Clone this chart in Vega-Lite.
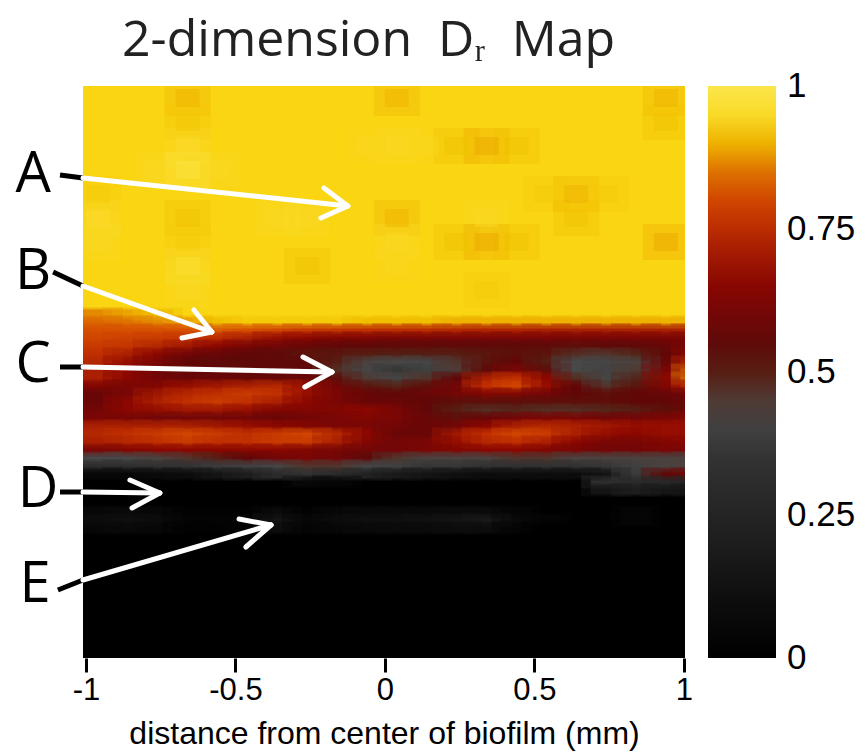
{"$schema":"https://vega.github.io/schema/vega-lite/v6.json","width":602,"height":572,"autosize":"none","padding":{"left":83,"top":86,"right":180,"bottom":97},"background":"white",
"title":{"text":"2-dimension\u00a0\u00a0Dᵣ\u00a0\u00a0Map","font":"Open Sans","fontSize":50,"fontWeight":"normal","color":"#222222","anchor":"start","frame":"group","dx":39,"offset":20},
"view":{"stroke":null},
"datasets":{
"base":[{"x":-1.01,"x2":1.004,"d":0,"d2":572,"v":0},{"x":-1.01,"x2":1.004,"d":0,"d2":240,"v":0.93}],
"blobs":[{"x":-0.66,"d":12,"v":0.9},{"x":0.04,"d":12,"v":0.9},{"x":0.94,"d":12,"v":0.9},{"x":-0.66,"d":36,"v":0.915},{"x":0.94,"d":36,"v":0.91},{"x":-0.66,"d":60,"v":0.96},{"x":-0.06,"d":60,"v":0.94},{"x":0.04,"d":60,"v":0.95},{"x":0.14,"d":60,"v":0.94},{"x":0.24,"d":60,"v":0.91},{"x":0.34,"d":60,"v":0.89},{"x":0.44,"d":60,"v":0.91},{"x":-0.76,"d":84,"v":0.95},{"x":-0.66,"d":84,"v":0.99},{"x":-0.56,"d":84,"v":0.95},{"x":-0.96,"d":108,"v":0.92},{"x":0.54,"d":108,"v":0.92},{"x":0.64,"d":108,"v":0.9},{"x":0.74,"d":108,"v":0.92},{"x":-0.96,"d":132,"v":0.96},{"x":-0.66,"d":132,"v":0.91},{"x":-0.36,"d":132,"v":0.95},{"x":-0.26,"d":132,"v":0.95},{"x":0.04,"d":132,"v":0.9},{"x":0.34,"d":132,"v":0.95},{"x":0.64,"d":132,"v":0.91},{"x":-0.96,"d":156,"v":0.95},{"x":-0.66,"d":156,"v":0.92},{"x":0.04,"d":156,"v":0.95},{"x":0.24,"d":156,"v":0.91},{"x":0.34,"d":156,"v":0.89},{"x":0.44,"d":156,"v":0.91},{"x":0.94,"d":156,"v":0.89},{"x":-0.66,"d":180,"v":0.97},{"x":-0.26,"d":180,"v":0.91},{"x":0.04,"d":180,"v":0.94},{"x":-0.66,"d":204,"v":0.95},{"x":0.34,"d":204,"v":0.92}],
"mid":[
{"x":-0.96,"d":228,"v":0.87},{"x":-0.86,"d":228,"v":0.89},{"x":-0.76,"d":228,"v":0.91},
{"x":-0.96,"d":236,"v":0.84},{"x":-0.86,"d":236,"v":0.85},{"x":-0.76,"d":236,"v":0.87},{"x":-0.66,"d":236,"v":0.89},{"x":-0.56,"d":236,"v":0.91},{"x":-0.46,"d":236,"v":0.92},{"x":-0.36,"d":236,"v":0.92},{"x":-0.26,"d":236,"v":0.92},{"x":-0.16,"d":236,"v":0.92},{"x":-0.06,"d":236,"v":0.91},{"x":0.04,"d":236,"v":0.91},{"x":0.14,"d":236,"v":0.91},{"x":0.24,"d":236,"v":0.9},{"x":0.34,"d":236,"v":0.9},{"x":0.44,"d":236,"v":0.9},{"x":0.54,"d":236,"v":0.9},{"x":0.64,"d":236,"v":0.9},{"x":0.74,"d":236,"v":0.9},{"x":0.84,"d":236,"v":0.9},{"x":0.94,"d":236,"v":0.9},{"x":1.04,"d":236,"v":0.9},
{"x":-0.96,"d":244,"v":0.82},{"x":-0.86,"d":244,"v":0.82},{"x":-0.76,"d":244,"v":0.82},{"x":-0.66,"d":244,"v":0.82},{"x":-0.56,"d":244,"v":0.83},{"x":-0.46,"d":244,"v":0.82},{"x":-0.36,"d":244,"v":0.8},{"x":-0.26,"d":244,"v":0.78},{"x":-0.16,"d":244,"v":0.77},{"x":-0.06,"d":244,"v":0.76},{"x":0.04,"d":244,"v":0.75},{"x":0.14,"d":244,"v":0.75},{"x":0.24,"d":244,"v":0.74},{"x":0.34,"d":244,"v":0.73},{"x":0.44,"d":244,"v":0.73},{"x":0.54,"d":244,"v":0.72},{"x":0.64,"d":244,"v":0.72},{"x":0.74,"d":244,"v":0.72},{"x":0.84,"d":244,"v":0.72},{"x":0.94,"d":244,"v":0.72},{"x":1.04,"d":244,"v":0.72},
{"x":-0.96,"d":252,"v":0.8},{"x":-0.86,"d":252,"v":0.79},{"x":-0.76,"d":252,"v":0.78},{"x":-0.66,"d":252,"v":0.77},{"x":-0.56,"d":252,"v":0.75},{"x":-0.46,"d":252,"v":0.72},{"x":-0.36,"d":252,"v":0.68},{"x":-0.26,"d":252,"v":0.66},{"x":-0.16,"d":252,"v":0.64},{"x":-0.06,"d":252,"v":0.63},{"x":0.04,"d":252,"v":0.62},{"x":0.14,"d":252,"v":0.62},{"x":0.24,"d":252,"v":0.62},{"x":0.34,"d":252,"v":0.62},{"x":0.44,"d":252,"v":0.62},{"x":0.54,"d":252,"v":0.62},{"x":0.64,"d":252,"v":0.62},{"x":0.74,"d":252,"v":0.62},{"x":0.84,"d":252,"v":0.62},{"x":0.94,"d":252,"v":0.62},{"x":1.04,"d":252,"v":0.62},
{"x":-0.96,"d":260,"v":0.78},{"x":-0.86,"d":260,"v":0.77},{"x":-0.76,"d":260,"v":0.74},{"x":-0.66,"d":260,"v":0.7},{"x":-0.56,"d":260,"v":0.66},{"x":-0.46,"d":260,"v":0.62},{"x":-0.36,"d":260,"v":0.6},{"x":-0.26,"d":260,"v":0.58},{"x":-0.16,"d":260,"v":0.56},{"x":-0.06,"d":260,"v":0.56},{"x":0.04,"d":260,"v":0.55},{"x":0.14,"d":260,"v":0.55},{"x":0.24,"d":260,"v":0.55},{"x":0.34,"d":260,"v":0.55},{"x":0.44,"d":260,"v":0.55},{"x":0.54,"d":260,"v":0.55},{"x":0.64,"d":260,"v":0.54},{"x":0.74,"d":260,"v":0.55},{"x":0.84,"d":260,"v":0.55},{"x":0.94,"d":260,"v":0.58},{"x":1.04,"d":260,"v":0.62},
{"x":-0.96,"d":268,"v":0.76},{"x":-0.86,"d":268,"v":0.72},{"x":-0.76,"d":268,"v":0.66},{"x":-0.66,"d":268,"v":0.6},{"x":-0.56,"d":268,"v":0.58},{"x":-0.46,"d":268,"v":0.56},{"x":-0.36,"d":268,"v":0.55},{"x":-0.26,"d":268,"v":0.53},{"x":-0.16,"d":268,"v":0.52},{"x":-0.06,"d":268,"v":0.5},{"x":0.04,"d":268,"v":0.49},{"x":0.14,"d":268,"v":0.49},{"x":0.24,"d":268,"v":0.5},{"x":0.34,"d":268,"v":0.52},{"x":0.44,"d":268,"v":0.54},{"x":0.54,"d":268,"v":0.53},{"x":0.64,"d":268,"v":0.47},{"x":0.74,"d":268,"v":0.46},{"x":0.84,"d":268,"v":0.48},{"x":0.94,"d":268,"v":0.56},{"x":1.04,"d":268,"v":0.66},
{"x":-0.96,"d":276,"v":0.74},{"x":-0.86,"d":276,"v":0.68},{"x":-0.76,"d":276,"v":0.62},{"x":-0.66,"d":276,"v":0.56},{"x":-0.56,"d":276,"v":0.55},{"x":-0.46,"d":276,"v":0.55},{"x":-0.36,"d":276,"v":0.55},{"x":-0.26,"d":276,"v":0.55},{"x":-0.16,"d":276,"v":0.5},{"x":-0.06,"d":276,"v":0.44},{"x":0.04,"d":276,"v":0.43},{"x":0.14,"d":276,"v":0.42},{"x":0.24,"d":276,"v":0.46},{"x":0.34,"d":276,"v":0.53},{"x":0.44,"d":276,"v":0.56},{"x":0.54,"d":276,"v":0.5},{"x":0.64,"d":276,"v":0.43},{"x":0.74,"d":276,"v":0.42},{"x":0.84,"d":276,"v":0.44},{"x":0.94,"d":276,"v":0.58},{"x":1.04,"d":276,"v":0.74},
{"x":-0.96,"d":284,"v":0.72},{"x":-0.86,"d":284,"v":0.66},{"x":-0.76,"d":284,"v":0.6},{"x":-0.66,"d":284,"v":0.57},{"x":-0.56,"d":284,"v":0.56},{"x":-0.46,"d":284,"v":0.55},{"x":-0.36,"d":284,"v":0.55},{"x":-0.26,"d":284,"v":0.55},{"x":-0.16,"d":284,"v":0.47},{"x":-0.06,"d":284,"v":0.42},{"x":0.04,"d":284,"v":0.36},{"x":0.14,"d":284,"v":0.4},{"x":0.24,"d":284,"v":0.45},{"x":0.34,"d":284,"v":0.55},{"x":0.44,"d":284,"v":0.62},{"x":0.54,"d":284,"v":0.54},{"x":0.64,"d":284,"v":0.43},{"x":0.74,"d":284,"v":0.41},{"x":0.84,"d":284,"v":0.45},{"x":0.94,"d":284,"v":0.62},{"x":1.04,"d":284,"v":0.84},
{"x":-0.96,"d":292,"v":0.72},{"x":-0.86,"d":292,"v":0.66},{"x":-0.76,"d":292,"v":0.6},{"x":-0.66,"d":292,"v":0.58},{"x":-0.56,"d":292,"v":0.58},{"x":-0.46,"d":292,"v":0.57},{"x":-0.36,"d":292,"v":0.57},{"x":-0.26,"d":292,"v":0.58},{"x":-0.16,"d":292,"v":0.54},{"x":-0.06,"d":292,"v":0.45},{"x":0.04,"d":292,"v":0.42},{"x":0.14,"d":292,"v":0.46},{"x":0.24,"d":292,"v":0.56},{"x":0.34,"d":292,"v":0.72},{"x":0.44,"d":292,"v":0.76},{"x":0.54,"d":292,"v":0.66},{"x":0.64,"d":292,"v":0.47},{"x":0.74,"d":292,"v":0.42},{"x":0.84,"d":292,"v":0.48},{"x":0.94,"d":292,"v":0.66},{"x":1.04,"d":292,"v":0.86},
{"x":-0.96,"d":300,"v":0.64},{"x":-0.86,"d":300,"v":0.62},{"x":-0.76,"d":300,"v":0.64},{"x":-0.66,"d":300,"v":0.68},{"x":-0.56,"d":300,"v":0.7},{"x":-0.46,"d":300,"v":0.72},{"x":-0.36,"d":300,"v":0.74},{"x":-0.26,"d":300,"v":0.68},{"x":-0.16,"d":300,"v":0.6},{"x":-0.06,"d":300,"v":0.52},{"x":0.04,"d":300,"v":0.48},{"x":0.14,"d":300,"v":0.54},{"x":0.24,"d":300,"v":0.6},{"x":0.34,"d":300,"v":0.76},{"x":0.44,"d":300,"v":0.8},{"x":0.54,"d":300,"v":0.68},{"x":0.64,"d":300,"v":0.56},{"x":0.74,"d":300,"v":0.46},{"x":0.84,"d":300,"v":0.52},{"x":0.94,"d":300,"v":0.64},{"x":1.04,"d":300,"v":0.76},
{"x":-0.96,"d":308,"v":0.58},{"x":-0.86,"d":308,"v":0.62},{"x":-0.76,"d":308,"v":0.7},{"x":-0.66,"d":308,"v":0.74},{"x":-0.56,"d":308,"v":0.76},{"x":-0.46,"d":308,"v":0.78},{"x":-0.36,"d":308,"v":0.76},{"x":-0.26,"d":308,"v":0.68},{"x":-0.16,"d":308,"v":0.62},{"x":-0.06,"d":308,"v":0.58},{"x":0.04,"d":308,"v":0.56},{"x":0.14,"d":308,"v":0.58},{"x":0.24,"d":308,"v":0.6},{"x":0.34,"d":308,"v":0.64},{"x":0.44,"d":308,"v":0.64},{"x":0.54,"d":308,"v":0.6},{"x":0.64,"d":308,"v":0.56},{"x":0.74,"d":308,"v":0.54},{"x":0.84,"d":308,"v":0.56},{"x":0.94,"d":308,"v":0.58},{"x":1.04,"d":308,"v":0.6},
{"x":-0.96,"d":316,"v":0.58},{"x":-0.86,"d":316,"v":0.66},{"x":-0.76,"d":316,"v":0.72},{"x":-0.66,"d":316,"v":0.76},{"x":-0.56,"d":316,"v":0.78},{"x":-0.46,"d":316,"v":0.76},{"x":-0.36,"d":316,"v":0.72},{"x":-0.26,"d":316,"v":0.66},{"x":-0.16,"d":316,"v":0.62},{"x":-0.06,"d":316,"v":0.58},{"x":0.04,"d":316,"v":0.58},{"x":0.14,"d":316,"v":0.56},{"x":0.24,"d":316,"v":0.54},{"x":0.34,"d":316,"v":0.54},{"x":0.44,"d":316,"v":0.54},{"x":0.54,"d":316,"v":0.54},{"x":0.64,"d":316,"v":0.54},{"x":0.74,"d":316,"v":0.54},{"x":0.84,"d":316,"v":0.56},{"x":0.94,"d":316,"v":0.56},{"x":1.04,"d":316,"v":0.58},
{"x":-0.96,"d":324,"v":0.6},{"x":-0.86,"d":324,"v":0.66},{"x":-0.76,"d":324,"v":0.68},{"x":-0.66,"d":324,"v":0.7},{"x":-0.56,"d":324,"v":0.7},{"x":-0.46,"d":324,"v":0.68},{"x":-0.36,"d":324,"v":0.64},{"x":-0.26,"d":324,"v":0.64},{"x":-0.16,"d":324,"v":0.64},{"x":-0.06,"d":324,"v":0.66},{"x":0.04,"d":324,"v":0.62},{"x":0.14,"d":324,"v":0.56},{"x":0.24,"d":324,"v":0.5},{"x":0.34,"d":324,"v":0.47},{"x":0.44,"d":324,"v":0.48},{"x":0.54,"d":324,"v":0.47},{"x":0.64,"d":324,"v":0.47},{"x":0.74,"d":324,"v":0.48},{"x":0.84,"d":324,"v":0.5},{"x":0.94,"d":324,"v":0.54},{"x":1.04,"d":324,"v":0.58},
{"x":-0.96,"d":332,"v":0.62},{"x":-0.86,"d":332,"v":0.62},{"x":-0.76,"d":332,"v":0.6},{"x":-0.66,"d":332,"v":0.6},{"x":-0.56,"d":332,"v":0.6},{"x":-0.46,"d":332,"v":0.6},{"x":-0.36,"d":332,"v":0.58},{"x":-0.26,"d":332,"v":0.6},{"x":-0.16,"d":332,"v":0.62},{"x":-0.06,"d":332,"v":0.64},{"x":0.04,"d":332,"v":0.62},{"x":0.14,"d":332,"v":0.58},{"x":0.24,"d":332,"v":0.54},{"x":0.34,"d":332,"v":0.58},{"x":0.44,"d":332,"v":0.6},{"x":0.54,"d":332,"v":0.62},{"x":0.64,"d":332,"v":0.62},{"x":0.74,"d":332,"v":0.6},{"x":0.84,"d":332,"v":0.6},{"x":0.94,"d":332,"v":0.62},{"x":1.04,"d":332,"v":0.64},
{"x":-0.96,"d":340,"v":0.72},{"x":-0.86,"d":340,"v":0.72},{"x":-0.76,"d":340,"v":0.72},{"x":-0.66,"d":340,"v":0.72},{"x":-0.56,"d":340,"v":0.7},{"x":-0.46,"d":340,"v":0.68},{"x":-0.36,"d":340,"v":0.66},{"x":-0.26,"d":340,"v":0.64},{"x":-0.16,"d":340,"v":0.62},{"x":-0.06,"d":340,"v":0.62},{"x":0.04,"d":340,"v":0.6},{"x":0.14,"d":340,"v":0.58},{"x":0.24,"d":340,"v":0.6},{"x":0.34,"d":340,"v":0.66},{"x":0.44,"d":340,"v":0.72},{"x":0.54,"d":340,"v":0.74},{"x":0.64,"d":340,"v":0.72},{"x":0.74,"d":340,"v":0.7},{"x":0.84,"d":340,"v":0.68},{"x":0.94,"d":340,"v":0.68},{"x":1.04,"d":340,"v":0.68},
{"x":-0.96,"d":348,"v":0.74},{"x":-0.86,"d":348,"v":0.76},{"x":-0.76,"d":348,"v":0.78},{"x":-0.66,"d":348,"v":0.8},{"x":-0.56,"d":348,"v":0.78},{"x":-0.46,"d":348,"v":0.76},{"x":-0.36,"d":348,"v":0.78},{"x":-0.26,"d":348,"v":0.8},{"x":-0.16,"d":348,"v":0.74},{"x":-0.06,"d":348,"v":0.66},{"x":0.04,"d":348,"v":0.58},{"x":0.14,"d":348,"v":0.58},{"x":0.24,"d":348,"v":0.7},{"x":0.34,"d":348,"v":0.76},{"x":0.44,"d":348,"v":0.8},{"x":0.54,"d":348,"v":0.78},{"x":0.64,"d":348,"v":0.72},{"x":0.74,"d":348,"v":0.68},{"x":0.84,"d":348,"v":0.66},{"x":0.94,"d":348,"v":0.68},{"x":1.04,"d":348,"v":0.68},
{"x":-0.96,"d":356,"v":0.72},{"x":-0.86,"d":356,"v":0.74},{"x":-0.76,"d":356,"v":0.76},{"x":-0.66,"d":356,"v":0.78},{"x":-0.56,"d":356,"v":0.76},{"x":-0.46,"d":356,"v":0.76},{"x":-0.36,"d":356,"v":0.78},{"x":-0.26,"d":356,"v":0.78},{"x":-0.16,"d":356,"v":0.72},{"x":-0.06,"d":356,"v":0.64},{"x":0.04,"d":356,"v":0.6},{"x":0.14,"d":356,"v":0.62},{"x":0.24,"d":356,"v":0.68},{"x":0.34,"d":356,"v":0.74},{"x":0.44,"d":356,"v":0.76},{"x":0.54,"d":356,"v":0.72},{"x":0.64,"d":356,"v":0.66},{"x":0.74,"d":356,"v":0.62},{"x":0.84,"d":356,"v":0.62},{"x":0.94,"d":356,"v":0.64},{"x":1.04,"d":356,"v":0.66},
{"x":-0.96,"d":364,"v":0.62},{"x":-0.86,"d":364,"v":0.64},{"x":-0.76,"d":364,"v":0.66},{"x":-0.66,"d":364,"v":0.66},{"x":-0.56,"d":364,"v":0.66},{"x":-0.46,"d":364,"v":0.66},{"x":-0.36,"d":364,"v":0.66},{"x":-0.26,"d":364,"v":0.64},{"x":-0.16,"d":364,"v":0.62},{"x":-0.06,"d":364,"v":0.6},{"x":0.04,"d":364,"v":0.6},{"x":0.14,"d":364,"v":0.62},{"x":0.24,"d":364,"v":0.64},{"x":0.34,"d":364,"v":0.66},{"x":0.44,"d":364,"v":0.66},{"x":0.54,"d":364,"v":0.64},{"x":0.64,"d":364,"v":0.62},{"x":0.74,"d":364,"v":0.6},{"x":0.84,"d":364,"v":0.6},{"x":0.94,"d":364,"v":0.62},{"x":1.04,"d":364,"v":0.62},
{"x":-0.96,"d":372,"v":0.43},{"x":-0.86,"d":372,"v":0.43},{"x":-0.76,"d":372,"v":0.44},{"x":-0.66,"d":372,"v":0.46},{"x":-0.56,"d":372,"v":0.5},{"x":-0.46,"d":372,"v":0.56},{"x":-0.36,"d":372,"v":0.6},{"x":-0.26,"d":372,"v":0.62},{"x":-0.16,"d":372,"v":0.6},{"x":-0.06,"d":372,"v":0.55},{"x":0.04,"d":372,"v":0.46},{"x":0.14,"d":372,"v":0.44},{"x":0.24,"d":372,"v":0.44},{"x":0.34,"d":372,"v":0.44},{"x":0.44,"d":372,"v":0.46},{"x":0.54,"d":372,"v":0.46},{"x":0.64,"d":372,"v":0.44},{"x":0.74,"d":372,"v":0.44},{"x":0.84,"d":372,"v":0.44},{"x":0.94,"d":372,"v":0.44},{"x":1.04,"d":372,"v":0.44},
{"x":-0.96,"d":380,"v":0.32},{"x":-0.86,"d":380,"v":0.33},{"x":-0.76,"d":380,"v":0.34},{"x":-0.66,"d":380,"v":0.35},{"x":-0.56,"d":380,"v":0.38},{"x":-0.46,"d":380,"v":0.4},{"x":-0.36,"d":380,"v":0.42},{"x":-0.26,"d":380,"v":0.46},{"x":-0.16,"d":380,"v":0.46},{"x":-0.06,"d":380,"v":0.42},{"x":0.04,"d":380,"v":0.4},{"x":0.14,"d":380,"v":0.36},{"x":0.24,"d":380,"v":0.36},{"x":0.34,"d":380,"v":0.34},{"x":0.44,"d":380,"v":0.34},{"x":0.54,"d":380,"v":0.34},{"x":0.64,"d":380,"v":0.34},{"x":0.74,"d":380,"v":0.36},{"x":0.84,"d":380,"v":0.4},{"x":0.94,"d":380,"v":0.44},{"x":1.04,"d":380,"v":0.44},
{"x":-0.96,"d":388,"v":0.05},{"x":-0.86,"d":388,"v":0.06},{"x":-0.76,"d":388,"v":0.08},{"x":-0.66,"d":388,"v":0.1},{"x":-0.56,"d":388,"v":0.14},{"x":-0.46,"d":388,"v":0.2},{"x":-0.36,"d":388,"v":0.3},{"x":-0.26,"d":388,"v":0.34},{"x":-0.16,"d":388,"v":0.3},{"x":-0.06,"d":388,"v":0.24},{"x":0.04,"d":388,"v":0.18},{"x":0.14,"d":388,"v":0.14},{"x":0.24,"d":388,"v":0.12},{"x":0.34,"d":388,"v":0.1},{"x":0.44,"d":388,"v":0.1},{"x":0.54,"d":388,"v":0.1},{"x":0.64,"d":388,"v":0.1},{"x":0.74,"d":388,"v":0.14},{"x":0.84,"d":388,"v":0.38},{"x":0.94,"d":388,"v":0.56},{"x":1.04,"d":388,"v":0.6},
{"x":-0.26,"d":396,"v":0.05},{"x":-0.16,"d":396,"v":0.04},{"x":0.74,"d":396,"v":0.32},{"x":0.84,"d":396,"v":0.3},{"x":0.94,"d":396,"v":0.28},{"x":1.04,"d":396,"v":0.26},
{"x":0.74,"d":404,"v":0.14},{"x":0.84,"d":404,"v":0.2},{"x":0.94,"d":404,"v":0.16},{"x":1.04,"d":404,"v":0.14},
{"x":-0.96,"d":426,"v":0.06},{"x":-0.86,"d":426,"v":0.08},{"x":-0.76,"d":426,"v":0.06},{"x":-0.66,"d":426,"v":0.02},{"x":-0.56,"d":426,"v":0.02},{"x":-0.46,"d":426,"v":0.02},{"x":-0.36,"d":426,"v":0.08},{"x":-0.26,"d":426,"v":0.02},{"x":-0.16,"d":426,"v":0.06},{"x":-0.06,"d":426,"v":0.07},{"x":0.04,"d":426,"v":0.07},{"x":0.14,"d":426,"v":0.07},{"x":0.24,"d":426,"v":0.08},{"x":0.34,"d":426,"v":0.08},{"x":0.44,"d":426,"v":0.04},{"x":0.84,"d":426,"v":0.04},
{"x":-0.96,"d":434,"v":0.1},{"x":-0.86,"d":434,"v":0.12},{"x":-0.76,"d":434,"v":0.1},{"x":-0.66,"d":434,"v":0.03},{"x":-0.56,"d":434,"v":0.03},{"x":-0.46,"d":434,"v":0.04},{"x":-0.36,"d":434,"v":0.14},{"x":-0.26,"d":434,"v":0.05},{"x":-0.16,"d":434,"v":0.1},{"x":-0.06,"d":434,"v":0.12},{"x":0.04,"d":434,"v":0.12},{"x":0.14,"d":434,"v":0.13},{"x":0.24,"d":434,"v":0.15},{"x":0.34,"d":434,"v":0.18},{"x":0.44,"d":434,"v":0.08},{"x":0.54,"d":434,"v":0.03},{"x":0.84,"d":434,"v":0.04},
{"x":-0.96,"d":442,"v":0.05},{"x":-0.86,"d":442,"v":0.07},{"x":-0.76,"d":442,"v":0.05},{"x":-0.66,"d":442,"v":0.02},{"x":-0.56,"d":442,"v":0.02},{"x":-0.46,"d":442,"v":0.03},{"x":-0.36,"d":442,"v":0.1},{"x":-0.26,"d":442,"v":0.03},{"x":-0.16,"d":442,"v":0.06},{"x":-0.06,"d":442,"v":0.07},{"x":0.04,"d":442,"v":0.08},{"x":0.14,"d":442,"v":0.08},{"x":0.24,"d":442,"v":0.09},{"x":0.34,"d":442,"v":0.1},{"x":0.44,"d":442,"v":0.04},{"x":0.54,"d":442,"v":0.01}
],
"arrows":[
{"k":"lead","x":-1.087,"x2":-1.01,"d":89,"d2":92},{"k":"arrow","x":-1.01,"x2":-0.124,"d":92,"d2":120},{"k":"arrow","x":-0.204,"x2":-0.124,"d":102,"d2":120},{"k":"arrow","x":-0.214,"x2":-0.124,"d":132,"d2":120},
{"k":"lead","x":-1.11,"x2":-1.01,"d":186,"d2":200},{"k":"arrow","x":-1.01,"x2":-0.579,"d":200,"d2":246},{"k":"arrow","x":-0.639,"x2":-0.579,"d":224,"d2":246},{"k":"arrow","x":-0.679,"x2":-0.579,"d":252,"d2":246},
{"k":"lead","x":-1.087,"x2":-1.01,"d":281,"d2":281},{"k":"arrow","x":-1.01,"x2":-0.177,"d":281,"d2":286},{"k":"arrow","x":-0.274,"x2":-0.177,"d":271,"d2":286},{"k":"arrow","x":-0.268,"x2":-0.177,"d":301,"d2":286},
{"k":"lead","x":-1.087,"x2":-1.01,"d":406,"d2":406},{"k":"arrow","x":-1.01,"x2":-0.753,"d":406,"d2":407},{"k":"arrow","x":-0.853,"x2":-0.753,"d":394,"d2":407},{"k":"arrow","x":-0.846,"x2":-0.753,"d":422,"d2":407},
{"k":"lead","x":-1.094,"x2":-1.01,"d":504,"d2":494},{"k":"arrow","x":-1.01,"x2":-0.381,"d":494,"d2":439},{"k":"arrow","x":-0.488,"x2":-0.381,"d":433,"d2":439},{"k":"arrow","x":-0.465,"x2":-0.381,"d":461,"d2":439}
],
"letters":[{"t":"A","x":-1.177,"d":89},{"t":"B","x":-1.177,"d":186},{"t":"C","x":-1.177,"d":279},{"t":"D","x":-1.16,"d":404},{"t":"E","x":-1.17,"d":499}]
},
"layer":[
{"data":{"name":"base"},"mark":{"type":"rect","clip":true},"encoding":{
"x":{"field":"x","type":"quantitative","scale":{"domain":[-1.01,1.004],"nice":false,"zero":false},"axis":{"values":[-1,-0.5,0,0.5,1],"labelExpr":"''+datum.value","domain":false,"grid":false,"tickColor":"#000000","tickWidth":3,"tickSize":14,"labelFont":"Liberation Sans","labelFontSize":31,"labelColor":"#000000","labelPadding":3,"labelFlush":false,"labelOverlap":false,"title":"distance from center of biofilm (mm)","titleFont":"Liberation Sans","titleFontSize":32,"titleFontWeight":"normal","titleColor":"#000000","titlePadding":13}},
"x2":{"field":"x2"},
"y":{"field":"d","type":"quantitative","scale":{"domain":[0,572],"reverse":true,"nice":false,"zero":false},"axis":null},
"y2":{"field":"d2"},
"color":{"field":"v","type":"quantitative","scale":{"type":"linear","domain":[0,0.11,0.21,0.35,0.43,0.486,0.555,0.67,0.76,0.82,0.86,0.91,0.93,1],"range":["#000000","#0e0e0e","#1e1e1e","#333333","#484848","#552015","#600808","#900800","#c03000","#d85000","#e07c00","#f0c000","#f9d512","#fbe64a"]},"legend":{"orient":"none","legendX":625,"legendY":0,"title":null,"type":"gradient","direction":"vertical","gradientLength":572,"gradientThickness":68,"gradientStrokeWidth":0,"values":[0,0.25,0.5,0.75,1],"labelExpr":"''+datum.value","labelFont":"Liberation Sans","labelFontSize":35,"labelColor":"#000000","labelOffset":11,"labelOverlap":false,"tickCount":5,"encode":{"labels":{"update":{"baseline":{"value":"middle"}}}}}}
}},
{"data":{"name":"blobs"},"mark":{"type":"rect","width":46,"height":36,"fillOpacity":0.3,"clip":true},"encoding":{"x":{"field":"x","type":"quantitative"},"y":{"field":"d","type":"quantitative"},"color":{"field":"v","type":"quantitative"}}},
{"data":{"name":"blobs"},"mark":{"type":"rect","width":24,"height":18,"fillOpacity":0.45,"clip":true},"encoding":{"x":{"field":"x","type":"quantitative"},"y":{"field":"d","type":"quantitative"},"color":{"field":"v","type":"quantitative"}}},
{"data":{"name":"mid"},"mark":{"type":"rect","width":31,"height":9,"clip":true},"encoding":{"x":{"field":"x","type":"quantitative"},"y":{"field":"d","type":"quantitative"},"color":{"field":"v","type":"quantitative"}}},
{"data":{"name":"mid"},"mark":{"type":"rect","width":50,"height":13,"fillOpacity":0.4,"clip":true},"encoding":{"x":{"field":"x","type":"quantitative"},"y":{"field":"d","type":"quantitative"},"color":{"field":"v","type":"quantitative"}}},
{"data":{"name":"arrows"},"transform":[{"filter":"datum.k==='lead'"}],"mark":{"type":"rule","color":"#000000","strokeWidth":5},"encoding":{"x":{"field":"x","type":"quantitative"},"x2":{"field":"x2"},"y":{"field":"d","type":"quantitative"},"y2":{"field":"d2"}}},
{"data":{"name":"arrows"},"transform":[{"filter":"datum.k==='arrow'"}],"mark":{"type":"rule","color":"#ffffff","strokeWidth":5,"strokeCap":"round"},"encoding":{"x":{"field":"x","type":"quantitative"},"x2":{"field":"x2"},"y":{"field":"d","type":"quantitative"},"y2":{"field":"d2"}}},
{"data":{"name":"letters"},"mark":{"type":"text","font":"Open Sans","fontSize":56,"color":"#000000","align":"center","baseline":"middle"},"encoding":{"x":{"field":"x","type":"quantitative"},"y":{"field":"d","type":"quantitative"},"text":{"field":"t"}}}
]}
